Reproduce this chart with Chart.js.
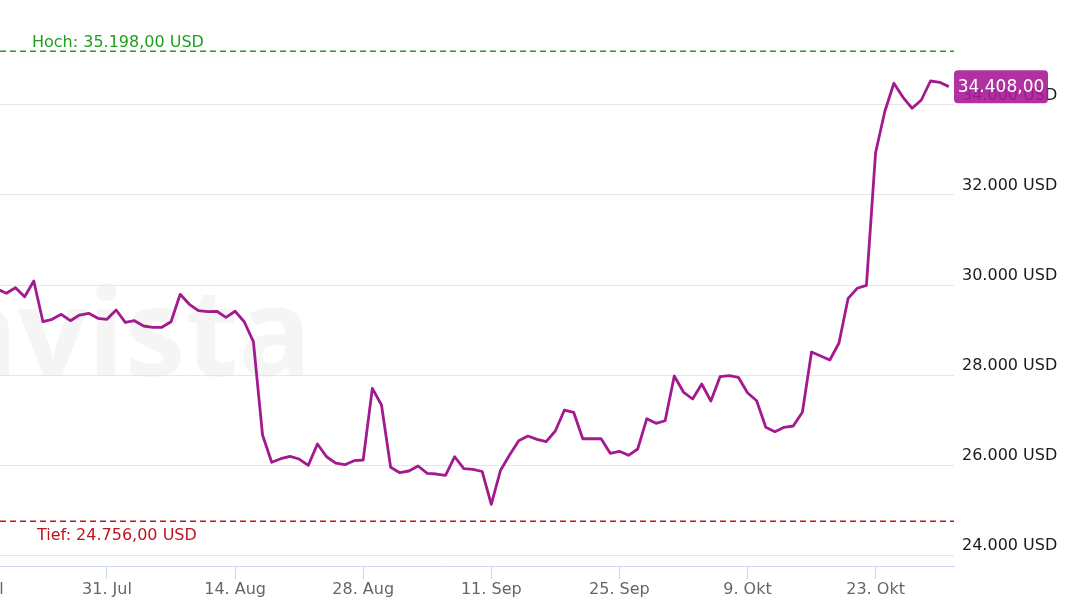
<!DOCTYPE html>
<html><head><meta charset="utf-8">
<script src="https://cdn.jsdelivr.net/npm/chart.js@4/dist/chart.umd.min.js"></script>
<style>
html,body{margin:0;padding:0;background:#fff;overflow:hidden;width:1087px;height:615px}
#wrap{position:absolute;left:-60px;top:0;width:1147px;height:615px}
</style>
</head><body>
<div id="wrap"><canvas id="c" width="1147" height="615"></canvas></div>
<script>
// Daily values from 19 Jul to 31 Oct (index 0 = 19 Jul)
const startDate = '19. Jul';
const prices = [
  29911, 29816, 29940, 29740, 30089, 29184, 29238, 29349, 29207, 29333, 29371, 29260,
  29238, 29444, 29171, 29207, 29089, 29060, 29060, 29184, 29793, 29571, 29429, 29407, 29416, 29282, 29416,
  29184, 28740, 26667, 26060, 26140, 26193, 26133, 25993, 26467, 26184, 26044, 26007, 26096, 26111,
  27704, 27333, 25949, 25829, 25867, 25978, 25816, 25800, 25771, 26184, 25918, 25904, 25856, 25127,
  25878, 26222, 26540, 26644, 26571, 26518, 26756, 27222, 27171, 26584, 26584, 26584, 26260, 26304,
  26216, 26356, 27029, 26927, 26984, 27978, 27622, 27467, 27800, 27422, 27962, 27984, 27949,
  27607, 27429, 26838, 26740, 26838, 26867, 27171, 28511, 28422, 28333, 28711, 29704, 29927, 29993,
  32940, 33851, 34482, 34171, 33927, 34111, 34533, 34504, 34408
];
const tickDays = [-2, 12, 26, 40, 54, 68, 82, 96];
const tickLabels = ['17. Jul', '31. Jul', '14. Aug', '28. Aug', '11. Sep', '25. Sep', '9. Okt', '23. Okt'];
const yTicks = [24000, 26000, 28000, 30000, 32000, 34000];
const highValue = 35198;
const lowValue = 24756;
const currency = 'USD';

const OFF = 60; // canvas shifted left
const FONT = '"DejaVu Sans", sans-serif';

function fmtInt(v){ return String(Math.round(v)).replace(/\B(?=(\d{3})+(?!\d))/g, '.'); }
function fmt2(v){ const p = v.toFixed(2).split('.'); return fmtInt(+p[0]) + ',' + p[1]; }

const points = prices.map((v, i) => ({x: i, y: v}));

function dashed(ctx, x0, x1, y, color){
  ctx.fillStyle = color;
  for (let x = x0; x < x1; x += 10) {
    ctx.fillRect(x, y, Math.min(6, x1 - x), 1.5);
  }
}

const decor = {
  id: 'decor',
  beforeDraw(chart){
    const ctx = chart.ctx;
    ctx.save();
    ctx.font = 'bold 122px "Open Sans", sans-serif';
    ctx.fillStyle = '#f5f5f5';
    ctx.textAlign = 'right';
    ctx.textBaseline = 'alphabetic';
    ctx.fillText('onvista', 312 + OFF, 376);
    ctx.restore();
  },
  beforeDatasetsDraw(chart){
    const ctx = chart.ctx, a = chart.chartArea, y = chart.scales.y;
    ctx.save();
    const yh = Math.round(y.getPixelForValue(highValue));
    const yl = Math.round(y.getPixelForValue(lowValue));
    dashed(ctx, a.left, a.right, yh - 0.5, '#1fa01f');
    dashed(ctx, a.left, a.right, yl - 0.5, '#c4121c');
    ctx.font = '16px ' + FONT;
    ctx.textAlign = 'left';
    ctx.textBaseline = 'alphabetic';
    ctx.fillStyle = '#1f9e1f';
    ctx.fillText('Hoch: ' + fmt2(highValue) + ' ' + currency, 32 + OFF, yh - 4.5);
    ctx.fillStyle = '#c0141e';
    ctx.fillText('Tief: ' + fmt2(lowValue) + ' ' + currency, 37 + OFF, yl + 18.5);
    ctx.restore();
  },
  afterDraw(chart){
    const ctx = chart.ctx, a = chart.chartArea, y = chart.scales.y;
    const last = prices[prices.length - 1];
    const cy = y.getPixelForValue(last);
    const x0 = a.right, w = 94, h = 33;
    ctx.save();
    ctx.fillStyle = 'rgba(167,28,150,0.9)';
    ctx.beginPath();
    ctx.roundRect(x0, cy - h / 2, w, h, 4);
    ctx.fill();
    ctx.fillStyle = '#ffffff';
    ctx.font = '17px ' + FONT;
    ctx.textAlign = 'center';
    ctx.textBaseline = 'middle';
    ctx.fillText(fmt2(last), x0 + w / 2, cy + 1);
    ctx.restore();
  }
};

new Chart(document.getElementById('c'), {
  type: 'line',
  data: {
    datasets: [{
      data: points,
      borderColor: '#a3198f',
      borderWidth: 2.8,
      pointRadius: 0,
      tension: 0,
      borderJoinStyle: 'round',
      fill: false
    }]
  },
  options: {
    responsive: false,
    animation: false,
    devicePixelRatio: 1,
    events: [],
    layout: { padding: 0 },
    plugins: { legend: { display: false }, tooltip: { enabled: false } },
    scales: {
      x: {
        type: 'linear',
        min: -6.25,
        max: 104.57,
        afterBuildTicks: s => { s.ticks = tickDays.map(v => ({ value: v })); },
        afterFit: s => { s.height = 49; s.paddingLeft = 0; s.paddingRight = 0; },
        ticks: {
          autoSkip: false,
          maxRotation: 0,
          color: '#666666',
          font: { family: FONT, size: 16 },
          padding: 1,
          callback: v => tickLabels[tickDays.indexOf(v)]
        },
        grid: { drawOnChartArea: false, drawTicks: true, tickLength: 13, color: '#ccd6eb', lineWidth: 1 },
        border: { display: true, color: '#ccd6eb', width: 1 }
      },
      y: {
        position: 'right',
        min: 23756,
        max: 36333,
        afterBuildTicks: s => { s.ticks = yTicks.map(v => ({ value: v })); },
        afterFit: s => { s.width = 133; s.paddingTop = 0; s.paddingBottom = 0; },
        ticks: {
          color: '#1a1a1a',
          font: { family: FONT, size: 16 },
          padding: 8,
          labelOffset: -9,
          callback: v => fmtInt(v) + ' ' + currency
        },
        grid: { color: '#e6e6e6', lineWidth: 1, drawTicks: false },
        border: { display: false }
      }
    }
  },
  plugins: [decor]
});
</script>
</body></html>
